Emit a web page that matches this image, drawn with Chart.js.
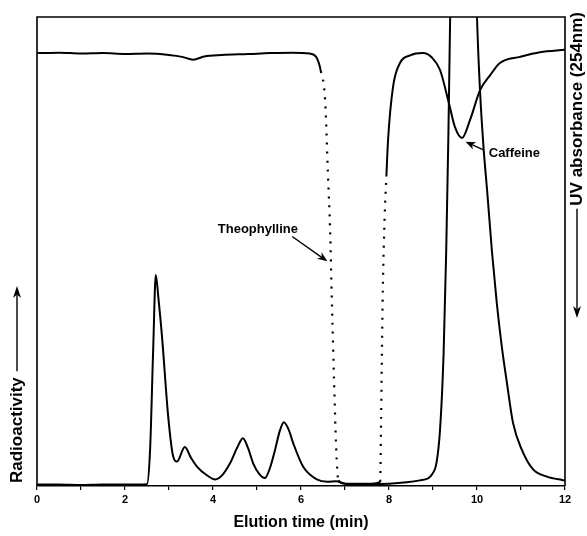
<!DOCTYPE html>
<html><head><meta charset="utf-8">
<script src="https://cdn.jsdelivr.net/npm/chart.js@4/dist/chart.umd.min.js"></script>
<style>html,body{margin:0;padding:0;background:#fff;}canvas{display:block;}</style>
</head><body>
<canvas id="c" width="587" height="536"></canvas>
<script>
// ---- data ----
const timeRadio = [0, 0.5, 1, 1.5, 2, 2.3, 2.5, 2.57, 2.64, 2.7, 2.76, 2.84, 2.98, 3.09, 3.18, 3.36, 3.5, 3.63, 3.86, 4.05, 4.2, 4.39, 4.55, 4.68, 4.8, 4.91, 5.05, 5.18, 5.3, 5.41, 5.52, 5.61, 5.72, 5.82, 6.05, 6.36, 6.6, 6.8, 7.0, 7.3, 7.6, 8.0, 8.4, 8.7, 8.88, 8.98, 9.08, 9.16, 9.24, 9.3, 9.35, 9.39, 9.42, 9.97, 10.0, 10.07, 10.15, 10.23, 10.34, 10.45, 10.56, 10.68, 10.82, 11.02, 11.27, 11.59, 11.93, 12];
const radioValues = [0.3, 0.3, 0.2, 0.3, 0.3, 0.3, 0.4, 7.7, 29, 45, 40, 32, 15, 6.5, 5.2, 8.3, 6, 4.2, 2.3, 1.4, 2.2, 4.9, 8.2, 10.2, 8, 4.9, 2.6, 1.7, 4, 7.7, 11.8, 13.6, 12, 9.2, 4.1, 1.4, 0.9, 1.0, 0.5, 0.4, 0.4, 0.5, 0.8, 1.2, 1.6, 2.5, 5, 12, 28, 50, 75, 100, 112, 112, 100, 84, 72, 63, 50, 39, 30, 22, 13.4, 7.7, 3.6, 2, 1.3, 1.2];
const timeUV = [0, 0.5, 1, 1.5, 2, 2.5, 3, 3.3, 3.55, 3.8, 4.2, 4.8, 5.3, 5.8, 6.2, 6.35, 6.45, 6.55, 6.61, 6.66, 6.7, 6.75, 6.8, 6.85, 7.0, 7.3, 7.6, 7.8, 7.82, 7.84, 7.86, 7.9, 7.94, 7.98, 8.09, 8.25, 8.48, 8.77, 8.98, 9.16, 9.36, 9.5, 9.66, 9.84, 10.07, 10.3, 10.52, 10.98, 11.43, 12];
const uvValues = [92.3, 92.4, 92.2, 92.3, 92.1, 92.2, 91.9, 91.5, 90.9, 91.6, 91.9, 92.1, 92.3, 92.4, 92.2, 91.4, 88.5, 82, 67, 55, 40, 23, 8, 1.2, 0.5, 0.5, 0.5, 0.9, 14, 29, 42, 57, 66, 74, 85, 90.2, 91.8, 92.3, 91.3, 88.7, 81.7, 76.5, 74.2, 78, 84.4, 87.6, 90.2, 91.5, 92.5, 93];
const uvDottedRanges = [[6.45, 6.85], [7.8, 7.94]];
const xTickLabels = [0, 2, 4, 6, 8, 10, 12];
const xTitle = 'Elution time (min)';
const leftTitle = 'Radioactivity';
const rightTitle = 'UV absorbance (254nm)';
const peakLabels = [
  {text: 'Theophylline', x: 5.02, y: 54.8, from: [5.8, 53.2], to: [6.6, 47.9]},
  {text: 'Caffeine', x: 10.85, y: 71.0, from: [10.16, 71.6], to: [9.74, 73.4]}
];

const FONT = "'Liberation Sans', Arial, Helvetica, sans-serif";

function arrow(ctx, x0, y0, x1, y1, head, wid) {
  const a = Math.atan2(y1 - y0, x1 - x0);
  ctx.beginPath();
  ctx.moveTo(x0, y0);
  ctx.lineTo(x1 - Math.cos(a) * head * 0.7, y1 - Math.sin(a) * head * 0.7);
  ctx.stroke();
  ctx.beginPath();
  ctx.moveTo(x1, y1);
  ctx.lineTo(x1 - Math.cos(a) * head + Math.sin(a) * wid, y1 - Math.sin(a) * head - Math.cos(a) * wid);
  ctx.lineTo(x1 - Math.cos(a) * head * 0.7, y1 - Math.sin(a) * head * 0.7);
  ctx.lineTo(x1 - Math.cos(a) * head - Math.sin(a) * wid, y1 - Math.sin(a) * head + Math.cos(a) * wid);
  ctx.closePath();
  ctx.fill();
}

const framePlugin = {
  id: 'frame',
  afterDatasetsDraw(chart) {
    const {ctx, chartArea: a} = chart;
    ctx.save();
    ctx.strokeStyle = '#000';
    ctx.lineWidth = 1.6;
    ctx.beginPath();
    ctx.moveTo(a.left, a.bottom);
    ctx.lineTo(a.left, a.top);
    ctx.lineTo(a.right, a.top);
    ctx.lineTo(a.right, a.bottom);
    ctx.stroke();
    ctx.restore();
  },
  afterDraw(chart) {
    const {ctx, scales: {x, y}} = chart;
    ctx.save();
    ctx.fillStyle = '#000';
    ctx.strokeStyle = '#000';
    ctx.lineWidth = 1.4;
    ctx.font = 'bold 13px ' + FONT;
    ctx.textBaseline = 'middle';
    peakLabels.forEach(p => {
      ctx.textAlign = 'center';
      ctx.fillText(p.text, x.getPixelForValue(p.x), y.getPixelForValue(p.y));
      arrow(ctx, x.getPixelForValue(p.from[0]), y.getPixelForValue(p.from[1]),
            x.getPixelForValue(p.to[0]), y.getPixelForValue(p.to[1]), 10, 4);
    });
    // left title with upward arrow
    ctx.font = 'bold 17px ' + FONT;
    ctx.textAlign = 'left';
    const lw = ctx.measureText(leftTitle).width;
    ctx.save();
    ctx.translate(17, 483);
    ctx.rotate(-Math.PI / 2);
    ctx.fillText(leftTitle, 0, 0);
    ctx.restore();
    arrow(ctx, 17, 483 - lw - 6, 17, 286, 12, 4);
    // right title with downward arrow
    const rw = ctx.measureText(rightTitle).width;
    const start = 12 + rw;
    ctx.save();
    ctx.translate(577, start);
    ctx.rotate(-Math.PI / 2);
    ctx.fillText(rightTitle, 0, 0);
    ctx.restore();
    arrow(ctx, 577, start + 3, 577, 318, 12, 4);
    ctx.restore();
  }
};

function inDotted(a, b) {
  return uvDottedRanges.some(r => a >= r[0] - 1e-9 && b <= r[1] + 1e-9);
}

new Chart(document.getElementById('c'), {
  type: 'line',
  data: {
    datasets: [
      {
        label: 'Radioactivity',
        data: timeRadio.map((t, i) => ({x: t, y: radioValues[i]})),
        borderColor: '#000', borderWidth: 2, pointRadius: 0, fill: false,
        cubicInterpolationMode: 'monotone'
      },
      {
        label: 'UV absorbance',
        data: timeUV.map((t, i) => ({x: t, y: uvValues[i]})),
        borderColor: '#000', borderWidth: 2, pointRadius: 0, fill: false,
        cubicInterpolationMode: 'monotone',
        segment: {
          borderDash: c => inDotted(c.p0.parsed.x, c.p1.parsed.x) ? [2, 7] : undefined,
          borderWidth: c => inDotted(c.p0.parsed.x, c.p1.parsed.x) ? 2.2 : 2
        }
      }
    ]
  },
  options: {
    responsive: false,
    animation: false,
    devicePixelRatio: 1,
    layout: {padding: {left: 37, right: 22, top: 17, bottom: 0}},
    plugins: {legend: {display: false}, tooltip: {enabled: false}},
    scales: {
      x: {
        type: 'linear', min: 0, max: 12,
        afterFit: s => { s.height = 50; },
        ticks: {
          stepSize: 1, autoSkip: false, maxRotation: 0, padding: 3,
          color: '#000', font: {family: FONT, size: 11, weight: 'bold'},
          callback: v => xTickLabels.includes(v) ? String(v) : ''
        },
        grid: {drawOnChartArea: false, drawTicks: true, tickLength: 4, color: '#000', lineWidth: 1.2},
        border: {display: true, color: '#000', width: 1.6},
        title: {
          display: true, text: xTitle, color: '#000',
          font: {family: FONT, size: 16, weight: 'bold'},
          padding: {top: 2, bottom: 4}
        }
      },
      y: {display: false, min: 0, max: 100}
    }
  },
  plugins: [framePlugin]
});
</script>
</body></html>
